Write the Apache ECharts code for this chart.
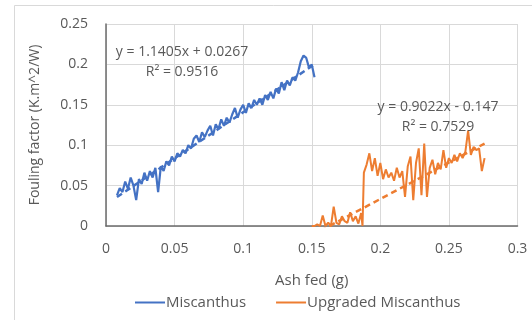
<!DOCTYPE html>
<html>
<head>
<meta charset="utf-8">
<script src="https://cdn.jsdelivr.net/npm/echarts@6/dist/echarts.min.js"></script>
<style>
  html, body { margin: 0; padding: 0; background: #ffffff; }
  #chart { width: 532px; height: 320px; }
</style>
</head>
<body>
<div id="chart"></div>
<script>
// Ash fed (g) and fouling factor (K.m^2/W) readings
const miscanthusAsh = [
  0.008, 0.010, 0.012, 0.014, 0.016, 0.018, 0.020, 0.022, 0.024, 0.026,
  0.028, 0.030, 0.032, 0.034, 0.036, 0.038, 0.040, 0.042, 0.044, 0.046,
  0.048, 0.050, 0.052, 0.054, 0.056, 0.058, 0.060, 0.062, 0.064, 0.066,
  0.068, 0.070, 0.072, 0.074, 0.076, 0.078, 0.080, 0.082, 0.084, 0.086,
  0.088, 0.090, 0.092, 0.094, 0.096, 0.098, 0.100, 0.102, 0.104, 0.106,
  0.108, 0.110, 0.112, 0.114, 0.116, 0.118, 0.120, 0.122, 0.124, 0.126,
  0.128, 0.130, 0.132, 0.134, 0.136, 0.138, 0.140, 0.142, 0.144, 0.146,
  0.148, 0.150, 0.152
];
const miscanthusFouling = [
  0.038, 0.047, 0.042, 0.055, 0.046, 0.060, 0.050, 0.032, 0.058, 0.052,
  0.066, 0.056, 0.068, 0.060, 0.072, 0.042, 0.074, 0.068, 0.080, 0.075,
  0.086, 0.080, 0.090, 0.086, 0.094, 0.090, 0.100, 0.096, 0.108, 0.112,
  0.104, 0.116, 0.110, 0.118, 0.124, 0.112, 0.126, 0.120, 0.132, 0.124,
  0.134, 0.128, 0.138, 0.146, 0.134, 0.144, 0.150, 0.140, 0.152, 0.146,
  0.156, 0.150, 0.158, 0.150, 0.162, 0.156, 0.166, 0.158, 0.170, 0.164,
  0.178, 0.168, 0.180, 0.174, 0.184, 0.180, 0.190, 0.204, 0.211, 0.208,
  0.196, 0.200, 0.184
];
const upgradedAsh = [
  0.150, 0.152, 0.154, 0.156, 0.158, 0.160, 0.162, 0.164, 0.166, 0.168,
  0.170, 0.172, 0.174, 0.176, 0.178, 0.180, 0.182, 0.184, 0.186, 0.187,
  0.188, 0.190, 0.192, 0.194, 0.196, 0.198, 0.200, 0.202, 0.204, 0.206,
  0.208, 0.210, 0.212, 0.214, 0.216, 0.218, 0.220, 0.222, 0.224, 0.226,
  0.228, 0.230, 0.232, 0.234, 0.236, 0.238, 0.240, 0.242, 0.244, 0.246,
  0.248, 0.250, 0.252, 0.254, 0.256, 0.258, 0.260, 0.262, 0.264, 0.266,
  0.268, 0.270, 0.272, 0.274, 0.276
];
const upgradedFouling = [
  0.000, 0.000, 0.002, 0.000, 0.013, 0.000, 0.004, 0.000, 0.024, 0.004,
  0.002, 0.012, 0.006, 0.004, 0.017, 0.006, 0.012, 0.003, 0.016, 0.000,
  0.066, 0.076, 0.090, 0.068, 0.084, 0.062, 0.078, 0.058, 0.070, 0.060,
  0.066, 0.056, 0.072, 0.060, 0.068, 0.036, 0.074, 0.086, 0.032, 0.078,
  0.096, 0.038, 0.102, 0.036, 0.072, 0.082, 0.064, 0.078, 0.070, 0.094,
  0.072, 0.084, 0.078, 0.088, 0.080, 0.090, 0.084, 0.092, 0.118, 0.088,
  0.098, 0.094, 0.096, 0.068, 0.084
];

// Linear fits: [slope, intercept, R²]
const miscanthusFit = [1.1405, 0.0267, 0.9516];
const upgradedFit = [0.9022, -0.147, 0.7529];

const seriesNames = ['Miscanthus', 'Upgraded Miscanthus'];
const xTickLabels = ['0', '0.05', '0.1', '0.15', '0.2', '0.25', '0.3'];
const yTickLabels = ['0', '0.05', '0.1', '0.15', '0.2', '0.25'];

const BLUE = '#4472C4';
const ORANGE = '#ED7D31';
const TEXT = '#595959';
const FONT = '"Open Sans", Lato, sans-serif';
const FS = 14;
const FS_LEGEND = 15;

function pairs(xs, ys) {
  return xs.map((x, i) => [x, ys[i]]);
}
function fitLine(xs, fit) {
  const x0 = xs[0], x1 = xs[xs.length - 1];
  return [[x0, fit[0] * x0 + fit[1]], [x1, fit[0] * x1 + fit[1]]];
}
function fmtEq(fit) {
  const sign = fit[1] < 0 ? ' - ' : ' + ';
  return 'y = ' + fit[0] + 'x' + sign + Math.abs(fit[1]);
}

const chart = echarts.init(document.getElementById('chart'), null, { renderer: 'canvas' });

chart.setOption({
  animation: false,
  backgroundColor: '#ffffff',
  textStyle: { fontFamily: FONT },
  grid: { left: 106, right: 14.5, top: 24, bottom: 94, containLabel: false },
  legend: {
    data: seriesNames,
    bottom: 5,
    left: 130,
    itemGap: 30,
    itemWidth: 30,
    itemHeight: 2,
    icon: 'rect',
    textStyle: { color: TEXT, fontSize: FS_LEGEND, fontFamily: FONT, padding: [0, 0, 0, -4] }
  },
  xAxis: {
    type: 'value',
    min: 0, max: 0.3, interval: 0.05,
    name: 'Ash fed (g)',
    nameLocation: 'middle',
    nameGap: 47,
    nameTextStyle: { color: TEXT, fontSize: FS_LEGEND, fontFamily: FONT },
    axisLine: { show: true, lineStyle: { color: '#6b6b6b', width: 1.5 } },
    axisTick: { show: false },
    axisLabel: {
      color: TEXT, fontSize: FS, margin: 16, fontFamily: FONT,
      formatter: v => xTickLabels[Math.round(v / 0.05)]
    },
    splitLine: { show: true, lineStyle: { color: '#d9d9d9', width: 1 } }
  },
  yAxis: {
    type: 'value',
    min: 0, max: 0.25, interval: 0.05,
    name: 'Fouling factor (K.m^2/W)',
    nameLocation: 'middle',
    nameGap: 64,
    nameTextStyle: { color: TEXT, fontSize: FS, fontFamily: FONT },
    axisLine: { show: true, lineStyle: { color: '#6b6b6b', width: 1.5 } },
    axisTick: { show: false },
    axisLabel: {
      color: TEXT, fontSize: FS, margin: 18, fontFamily: FONT,
      formatter: v => yTickLabels[Math.round(v / 0.05)]
    },
    splitLine: { show: true, lineStyle: { color: '#d9d9d9', width: 1 } }
  },
  series: [
    {
      name: seriesNames[0],
      type: 'line',
      data: pairs(miscanthusAsh, miscanthusFouling),
      showSymbol: false,
      symbol: 'none',
      lineStyle: { color: BLUE, width: 2.2 },
      itemStyle: { color: BLUE },
      z: 2
    },
    {
      name: seriesNames[1],
      type: 'line',
      data: pairs(upgradedAsh, upgradedFouling),
      showSymbol: false,
      symbol: 'none',
      lineStyle: { color: ORANGE, width: 2 },
      itemStyle: { color: ORANGE },
      z: 2
    },
    {
      name: 'Miscanthus fit',
      type: 'line',
      data: fitLine(miscanthusAsh, miscanthusFit),
      symbol: 'none',
      clip: true,
      lineStyle: { color: BLUE, width: 2.5, type: [6, 4] },
      z: 3
    },
    {
      name: 'Upgraded Miscanthus fit',
      type: 'line',
      data: fitLine(upgradedAsh, upgradedFit),
      symbol: 'none',
      clip: true,
      lineStyle: { color: ORANGE, width: 2.5, type: [6, 4] },
      z: 3
    }
  ],
  graphic: [
    {
      type: 'rect',
      shape: { x: 14.5, y: 5.5, width: 540, height: 340 },
      style: { fill: 'none', stroke: '#d9d9d9', lineWidth: 1 },
      silent: true, z: -1
    },
    {
      type: 'text', x: 182, y: 62, z: 10,
      style: {
        text: fmtEq(miscanthusFit) + '\nR² = ' + miscanthusFit[2],
        fill: TEXT, font: FS + 'px ' + FONT,
        align: 'center', verticalAlign: 'middle', lineHeight: 20
      }
    },
    {
      type: 'text', x: 438, y: 117, z: 10,
      style: {
        text: fmtEq(upgradedFit) + '\nR² = ' + upgradedFit[2],
        fill: TEXT, font: FS + 'px ' + FONT,
        align: 'center', verticalAlign: 'middle', lineHeight: 20
      }
    }
  ]
});
</script>
</body>
</html>
